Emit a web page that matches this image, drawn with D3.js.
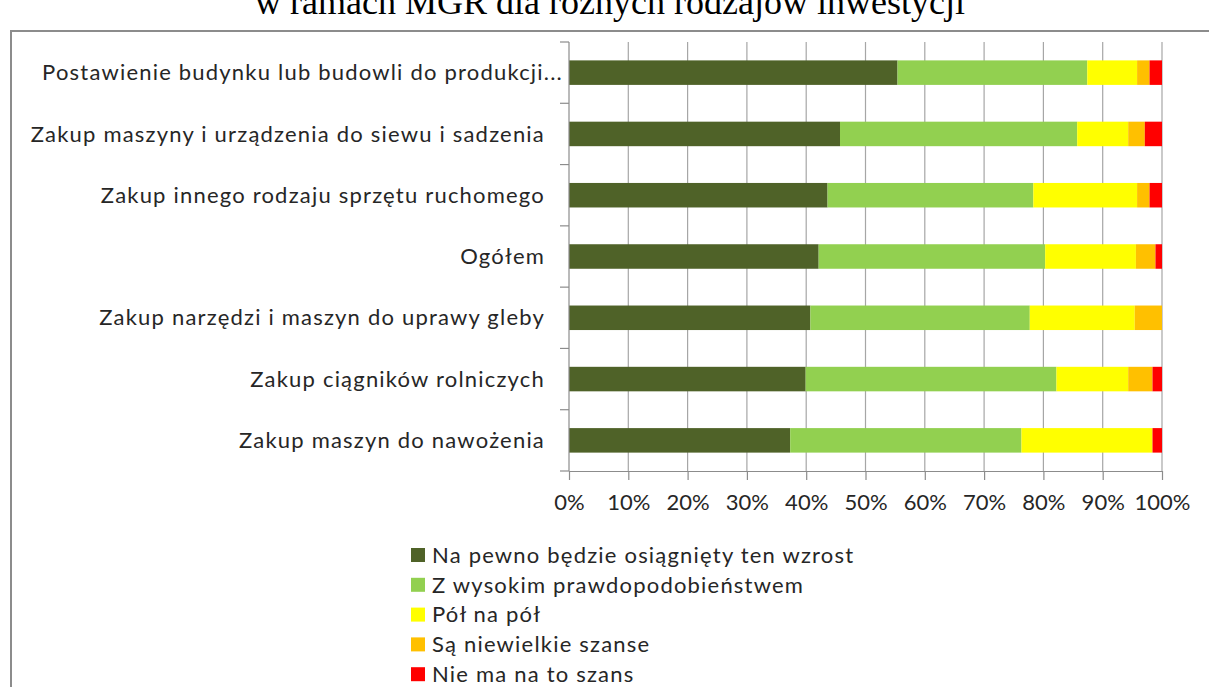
<!DOCTYPE html>
<html>
<head>
<meta charset="utf-8">
<script src="https://cdn.jsdelivr.net/npm/d3@7"></script>
<style>
  html, body { margin: 0; padding: 0; background: #fff; }
  svg { display: block; }
</style>
</head>
<body>
<svg id="chart" width="1209" height="687"></svg>
<script>
// ---- data ----
const titleText = "w ramach MGR dla różnych rodzajów inwestycji";
const categories = [
  "Postawienie budynku lub budowli do produkcji...",
  "Zakup maszyny i urządzenia do siewu i sadzenia",
  "Zakup innego rodzaju sprzętu ruchomego",
  "Ogółem",
  "Zakup narzędzi i maszyn do uprawy gleby",
  "Zakup ciągników rolniczych",
  "Zakup maszyn do nawożenia"
];
const seriesNames = [
  "Na pewno będzie osiągnięty ten wzrost",
  "Z wysokim prawdopodobieństwem",
  "Pół na pół",
  "Są niewielkie szanse",
  "Nie ma na to szans"
];
const naPewno      = [55.4, 45.7, 43.6, 42.1, 40.7, 39.9, 37.3];
const zWysokim     = [32.0, 40.0, 34.7, 38.2, 37.0, 42.3, 39.0];
const polNaPol     = [ 8.4,  8.6, 17.5, 15.3, 17.7, 12.1, 22.1];
const niewielkie   = [ 2.1,  2.8,  2.1,  3.3,  4.6,  4.1,  0.0];
const nieMa        = [ 2.1,  2.9,  2.1,  1.1,  0.0,  1.6,  1.6];
const seriesColors = ["#4F6228", "#92D050", "#FFFF00", "#FFC000", "#FF0000"];
const xTicks = [0, 0.1, 0.2, 0.3, 0.4, 0.5, 0.6, 0.7, 0.8, 0.9, 1.0];

// ---- build stacked table ----
const seriesValues = [naPewno, zWysokim, polNaPol, niewielkie, nieMa];
const rows = categories.map((c, i) => {
  const r = { cat: c };
  seriesNames.forEach((s, k) => r[s] = seriesValues[k][i]);
  return r;
});
const stack = d3.stack().keys(seriesNames).offset(d3.stackOffsetExpand);
const stacked = stack(rows);

const svg = d3.select("#chart");
const m = { left: 569, right: 1162, top: 42, bottom: 471 };

const font = "Lato, 'Open Sans', sans-serif";
const ls = "1.2px";

// frame
svg.append("rect")
  .attr("x", 11).attr("y", 31)
  .attr("width", 1220).attr("height", 700)
  .attr("fill", "#fff").attr("stroke", "#8c8c8c").attr("stroke-width", 2);

// title (cut off at top, as in the reference)
svg.append("text")
  .attr("x", 610).attr("y", 14)
  .attr("text-anchor", "middle")
  .attr("font-family", "'Liberation Serif', 'Times New Roman', serif")
  .attr("font-size", 36)
  .attr("fill", "#000")
  .text(titleText);

const x = d3.scaleLinear().domain([0, 1]).range([m.left, m.right]);
const y = d3.scaleBand().domain(categories).range([m.top, m.bottom]).paddingInner(0.6).paddingOuter(0.3);

// gridlines
svg.append("g")
  .selectAll("line")
  .data(xTicks.slice(1))
  .join("line")
  .attr("x1", d => x(d)).attr("x2", d => x(d))
  .attr("y1", m.top).attr("y2", m.bottom)
  .attr("stroke", "#a6a6a6").attr("stroke-width", 1.2);

// bars
svg.append("g")
  .selectAll("g")
  .data(stacked)
  .join("g")
  .attr("fill", (d, i) => seriesColors[i])
  .selectAll("rect")
  .data(d => d)
  .join("rect")
  .attr("x", d => x(d[0]))
  .attr("width", d => Math.max(0, x(d[1]) - x(d[0])))
  .attr("y", d => y(d.data.cat))
  .attr("height", y.bandwidth());

// x axis
const xAxis = d3.axisBottom(x)
  .tickValues(xTicks)
  .tickFormat(d3.format(".0%"))
  .tickSize(9)
  .tickSizeOuter(0)
  .tickPadding(14);
const gx = svg.append("g").attr("transform", `translate(0,${m.bottom})`).call(xAxis);
gx.select(".domain").attr("stroke", "#8c8c8c").attr("stroke-width", 1.2);
gx.selectAll(".tick line").attr("stroke", "#8c8c8c").attr("stroke-width", 1.2);
gx.selectAll(".tick text")
  .attr("font-family", font).attr("font-size", 22).attr("fill", "#262626");

// y axis: ticks at category boundaries
const boundaries = d3.range(categories.length + 1);
const yB = d3.scaleLinear().domain([0, categories.length]).range([m.top, m.bottom]);
svg.append("g").selectAll("line")
  .data(boundaries)
  .join("line")
  .attr("x1", m.left - 9).attr("x2", m.left)
  .attr("y1", d => yB(d)).attr("y2", d => yB(d))
  .attr("stroke", "#8c8c8c").attr("stroke-width", 1.2);
svg.append("line")
  .attr("x1", m.left).attr("x2", m.left)
  .attr("y1", m.top).attr("y2", m.bottom)
  .attr("stroke", "#8c8c8c").attr("stroke-width", 1.2);

// category labels
svg.append("g").selectAll("text")
  .data(categories)
  .join("text")
  .attr("x", d => d.endsWith("...") ? 563 : 545)
  .attr("y", d => y(d) + y.bandwidth() / 2)
  .attr("dy", "0.35em")
  .attr("text-anchor", "end")
  .attr("font-family", font).attr("font-size", 22).attr("fill", "#262626")
  .attr("letter-spacing", ls)
  .text(d => d);

// legend
const lg = svg.append("g");
const li = lg.selectAll("g").data(seriesNames).join("g")
  .attr("transform", (d, i) => `translate(411, ${555 + i * 29.8})`);
li.append("rect").attr("x", 0).attr("y", -7).attr("width", 14).attr("height", 14)
  .attr("fill", (d, i) => seriesColors[i]);
li.append("text").attr("x", 21).attr("y", 0).attr("dy", "0.35em")
  .attr("font-family", font).attr("font-size", 22).attr("fill", "#262626")
  .attr("letter-spacing", ls)
  .text(d => d);
</script>
</body>
</html>
